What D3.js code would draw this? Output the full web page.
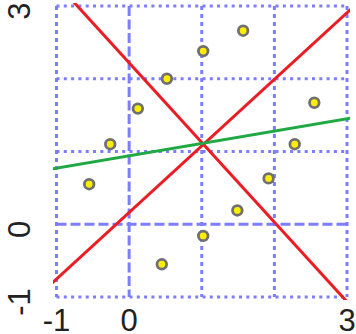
<!DOCTYPE html>
<html>
<head>
<meta charset="utf-8">
<script src="https://cdn.jsdelivr.net/npm/d3@7"></script>
<style>
  html, body { margin: 0; padding: 0; background: #fff; }
  svg { display: block; }
  .tick-label { font-family: "Liberation Sans", Arial, sans-serif; font-size: 31px; fill: #222; }
</style>
</head>
<body>
<div id="chart"></div>
<script>
// data
var px = [1.57, 1.02, 0.52, 0.12, -0.26, -0.55, 2.55, 2.28, 1.92, 1.49, 1.02, 0.45],
py = [2.66, 2.38, 2.00, 1.59, 1.10, 0.55, 1.67, 1.10, 0.63, 0.19, -0.16, -0.55];

// fitted lines: y = a + b*x
var lineNames = ["axis1", "axis2", "fit"],
lineA = [0.163, 2.219, 0.94],
lineB = [0.915, -1.095, 0.17];

var gridVals = [-1, 0, 1, 2, 3],
xLabels = [-1, 0, 3],
yLabels = [-1, 0, 3];

var width = 356, height = 334,
lineColors = {"axis1": "#ec1c24", "axis2": "#ec1c24", "fit": "#1fa844"};

var x = d3.scaleLinear().domain([-1, 3]).range([56.5, 347]),
y = d3.scaleLinear().domain([-1, 3]).range([297, 6]);

var svg = d3.select("#chart").append("svg")
.attr("width", width)
.attr("height", height);

svg.append("defs").append("clipPath")
.attr("id", "plot-clip")
.append("rect")
.attr("x", x(-1) - 3.5)
.attr("y", y(3) - 3)
.attr("width", x(3) - x(-1) + 6.5)
.attr("height", y(-1) - y(3) + 6);

// grid
var grid = svg.append("g").attr("class", "grid");

grid.selectAll(".vgrid")
.data(gridVals)
.enter()
.append("line")
.attr("x1", function(d){ return x(d); })
.attr("x2", function(d){ return x(d); })
.attr("y1", y(3))
.attr("y2", y(-1))
.attr("stroke", "#7d7dff")
.attr("stroke-width", 3)
.attr("stroke-dasharray", function(d){ return d === 0 ? "10,3.5" : "4,4"; });

grid.selectAll(".hgrid")
.data(gridVals)
.enter()
.append("line")
.attr("y1", function(d){ return y(d); })
.attr("y2", function(d){ return y(d); })
.attr("x1", x(-1))
.attr("x2", x(3))
.attr("stroke", "#7d7dff")
.attr("stroke-width", 3)
.attr("stroke-dasharray", function(d){ return d === 0 ? "10,4" : "3,4.3"; });

// lines
var linesG = svg.append("g").attr("clip-path", "url(#plot-clip)");

linesG.selectAll(".fit-line")
.data(lineNames)
.enter()
.append("line")
.attr("class", "fit-line")
.attr("x1", x(-1.2))
.attr("x2", x(3.2))
.attr("y1", function(d, i){ return y(lineA[i] + lineB[i] * -1.2); })
.attr("y2", function(d, i){ return y(lineA[i] + lineB[i] * 3.2); })
.attr("stroke", function(d){ return lineColors[d]; })
.attr("stroke-width", 3);

// points
svg.append("g").selectAll(".pt")
.data(px)
.enter()
.append("circle")
.attr("class", "pt")
.attr("cx", function(d){ return x(d); })
.attr("cy", function(d, i){ return y(py[i]); })
.attr("r", 4.8)
.attr("fill", "#ffee00")
.attr("stroke", "#707070")
.attr("stroke-width", 2.8);

// tick labels
svg.append("g").selectAll(".xlab")
.data(xLabels)
.enter()
.append("text")
.attr("class", "tick-label")
.attr("x", function(d){ return x(d); })
.attr("y", 331)
.attr("text-anchor", "middle")
.text(function(d){ return d; });

svg.append("g").selectAll(".ylab")
.data(yLabels)
.enter()
.append("text")
.attr("class", "tick-label")
.attr("text-anchor", "middle")
.attr("transform", function(d){ return "translate(30," + (y(d) + 5) + ") rotate(-90)"; })
.text(function(d){ return d; });
</script>
</body>
</html>
